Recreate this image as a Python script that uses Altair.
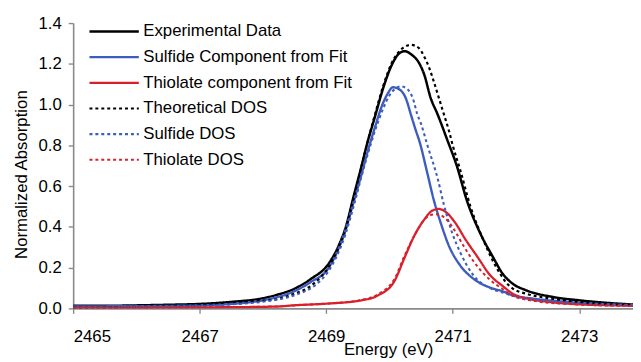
import altair as alt
import pandas as pd

# ---- data ----
exp_E = [2465.0, 2465.5, 2466.0, 2466.5, 2467.0, 2467.5, 2468.0, 2468.2, 2468.5, 2468.76,
         2469.04, 2469.2, 2469.3, 2469.45, 2469.56, 2469.64, 2469.77, 2469.9, 2470.03, 2470.15,
         2470.24, 2470.35, 2470.47, 2470.55, 2470.65, 2470.76, 2470.91, 2471.07, 2471.22, 2471.43,
         2471.64, 2471.79, 2471.95, 2472.16, 2472.57, 2472.99, 2473.5, 2473.85]
exp_y = [0.013, 0.013, 0.015, 0.018, 0.022, 0.032, 0.05, 0.065, 0.097, 0.145,
         0.22, 0.31, 0.39, 0.57, 0.70, 0.80, 0.94, 1.08, 1.19, 1.25,
         1.262, 1.245, 1.203, 1.147, 1.034, 0.953, 0.83, 0.694, 0.533, 0.372,
         0.25, 0.17, 0.121, 0.089, 0.057, 0.040, 0.026, 0.019]

sulf_E = [2465.0, 2466.0, 2467.0, 2467.5, 2468.0, 2468.5, 2468.76, 2469.04, 2469.3, 2469.45,
          2469.56, 2469.66, 2469.77, 2469.87, 2469.98, 2470.05, 2470.16, 2470.26, 2470.34, 2470.42,
          2470.47, 2470.6, 2470.7, 2470.81, 2470.94, 2471.12, 2471.33, 2471.64, 2471.79, 2471.95,
          2472.27, 2472.69, 2473.2, 2473.85]
sulf_y = [0.01, 0.011, 0.015, 0.022, 0.04, 0.085, 0.13, 0.20, 0.38, 0.54,
          0.66, 0.775, 0.888, 0.985, 1.058, 1.085, 1.074, 1.03, 0.95, 0.87,
          0.824, 0.662, 0.533, 0.42, 0.307, 0.21, 0.145, 0.097, 0.084, 0.064,
          0.048, 0.035, 0.024, 0.016]

thio_E = [2465.0, 2466.0, 2467.0, 2468.21, 2468.52, 2469.04, 2469.56, 2469.82, 2470.08, 2470.24,
          2470.39, 2470.55, 2470.68, 2470.78, 2470.91, 2471.04, 2471.2, 2471.38, 2471.6, 2471.79,
          2471.95, 2472.16, 2472.57, 2472.99, 2473.5, 2473.85]
thio_y = [0.002, 0.003, 0.005, 0.009, 0.016, 0.024, 0.040, 0.064, 0.135, 0.25,
          0.355, 0.436, 0.48, 0.488, 0.468, 0.42, 0.339, 0.258, 0.16, 0.11,
          0.072, 0.05, 0.03, 0.02, 0.015, 0.013]

tdos_E = [2465.0, 2466.0, 2467.0, 2467.43, 2468.0, 2468.21, 2468.52, 2468.68, 2468.83, 2469.04,
          2469.2, 2469.3, 2469.45, 2469.56, 2469.64, 2469.77, 2469.9, 2470.03, 2470.15, 2470.25,
          2470.34, 2470.47, 2470.55, 2470.63, 2470.7, 2470.78, 2470.86, 2470.94, 2471.0, 2471.12,
          2471.28, 2471.48, 2471.64, 2471.74, 2471.85, 2471.95, 2472.15, 2472.57, 2472.99, 2473.5,
          2473.85]
tdos_y = [0.005, 0.008, 0.015, 0.029, 0.038, 0.045, 0.075, 0.095, 0.129, 0.203,
          0.30, 0.38, 0.56, 0.70, 0.80, 0.95, 1.09, 1.20, 1.26, 1.285,
          1.293, 1.276, 1.235, 1.179, 1.114, 1.034, 0.953, 0.872, 0.80, 0.678,
          0.50, 0.339, 0.23, 0.175, 0.125, 0.097, 0.073, 0.048, 0.032, 0.02,
          0.015]

sdos_E = [2465.0, 2466.0, 2467.0, 2467.5, 2468.0, 2468.5, 2468.83, 2469.04, 2469.3, 2469.45,
          2469.56, 2469.66, 2469.77, 2469.9, 2470.0, 2470.1, 2470.18, 2470.29, 2470.37, 2470.44,
          2470.5, 2470.6, 2470.76, 2470.86, 2470.99, 2471.12, 2471.33, 2471.59, 2471.79, 2472.0,
          2472.5, 2473.0, 2473.85]
sdos_y = [0.005, 0.007, 0.012, 0.02, 0.033, 0.065, 0.115, 0.185, 0.36, 0.52,
          0.65, 0.76, 0.87, 0.98, 1.045, 1.08, 1.09, 1.074, 1.03, 0.953,
          0.905, 0.80, 0.64, 0.51, 0.372, 0.274, 0.161, 0.10, 0.078, 0.058,
          0.036, 0.025, 0.015]

tidos_E = [2465.0, 2467.0, 2468.2, 2468.52, 2469.04, 2469.56, 2469.82, 2470.08, 2470.24, 2470.39,
           2470.55, 2470.63, 2470.72, 2470.8, 2470.89, 2471.02, 2471.17, 2471.38, 2471.59, 2471.79,
           2471.95, 2472.3, 2472.8, 2473.85]
tidos_y = [0.002, 0.005, 0.01, 0.015, 0.024, 0.042, 0.07, 0.145, 0.26, 0.355,
           0.435, 0.455, 0.462, 0.458, 0.44, 0.388, 0.307, 0.21, 0.14, 0.095,
           0.062, 0.036, 0.022, 0.012]

series_names = ["Experimental Data", "Sulfide Component from Fit", "Thiolate component from Fit",
                "Theoretical DOS", "Sulfide DOS", "Thiolate DOS"]
series_colors = ["#000000", "#3c5dbf", "#d8202c", "#000000", "#3c5dbf", "#d8202c"]
series_dash = [[1, 0], [1, 0], [1, 0], [3, 3], [3, 3], [3, 3]]
series_width = [2.5, 2, 2, 2.5, 2.5, 2.5]

x_ticks = [2465, 2467, 2469, 2471, 2473]
y_ticks = [0.0, 0.2, 0.4, 0.6, 0.8, 1.0, 1.2, 1.4]

rows = []
for name, E, Y in zip(series_names,
                      [exp_E, sulf_E, thio_E, tdos_E, sdos_E, tidos_E],
                      [exp_y, sulf_y, thio_y, tdos_y, sdos_y, tidos_y]):
    for i, (e, y) in enumerate(zip(E, Y)):
        rows.append({"series": name, "E": e, "A": y, "i": i})
df = pd.DataFrame(rows)

FONT = "Liberation Sans"

legend_cfg = dict(title=None, orient="none", legendX=33, legendY=0,
                  symbolType="M-5,0H5", symbolSize=100,
                  symbolStrokeWidth=2, labelOffset=21,
                  rowPadding=8, padding=0, labelLimit=0,
                  labelFontSize=17, labelFont=FONT,
                  labelColor="#000000")

chart = alt.Chart(df).mark_line(clip=True, interpolate="monotone").encode(
    x=alt.X("E:Q",
            scale=alt.Scale(domain=[2465, 2473.85], nice=False, zero=False),
            axis=alt.Axis(values=x_ticks, format="d", title="Energy (eV)",
                          titleX=319, titleY=34, titleBaseline="top", titleAnchor="start",
                          titleAlign="center")),
    y=alt.Y("A:Q",
            scale=alt.Scale(domain=[0, 1.4], nice=False),
            axis=alt.Axis(values=y_ticks, format=".1f", title="Normalized Absorption",
                          titleX=-47, titleY=153, titleBaseline="alphabetic",
                          titleAnchor="start", titleAlign="center")),
    color=alt.Color("series:N",
                    scale=alt.Scale(domain=series_names, range=series_colors),
                    legend=alt.Legend(**legend_cfg)),
    strokeDash=alt.StrokeDash("series:N",
                              scale=alt.Scale(domain=series_names, range=series_dash),
                              legend=alt.Legend(**legend_cfg)),
    strokeWidth=alt.StrokeWidth("series:N",
                                scale=alt.Scale(domain=series_names, range=series_width),
                                legend=None),
    order="i:Q",
).properties(
    width=567, height=289,
    autosize=alt.AutoSizeParams(type="none"),
    padding={"left": 66, "top": 13, "right": 0, "bottom": 52},
).configure_view(
    stroke=None
).configure_axis(
    grid=False,
    labelFont=FONT, titleFont=FONT,
    labelFontSize=17, titleFontSize=17, titleFontWeight="normal",
    labelColor="#000000", titleColor="#000000",
    domainColor="#8a8a8a", domainWidth=1.6,
    tickColor="#8a8a8a", tickWidth=1.4, tickSize=5,
).configure_axisX(
    labelPadding=16
).configure_axisY(
    labelPadding=7
)

chart.save("out.html", embed_options={"renderer": "svg", "actions": False})
